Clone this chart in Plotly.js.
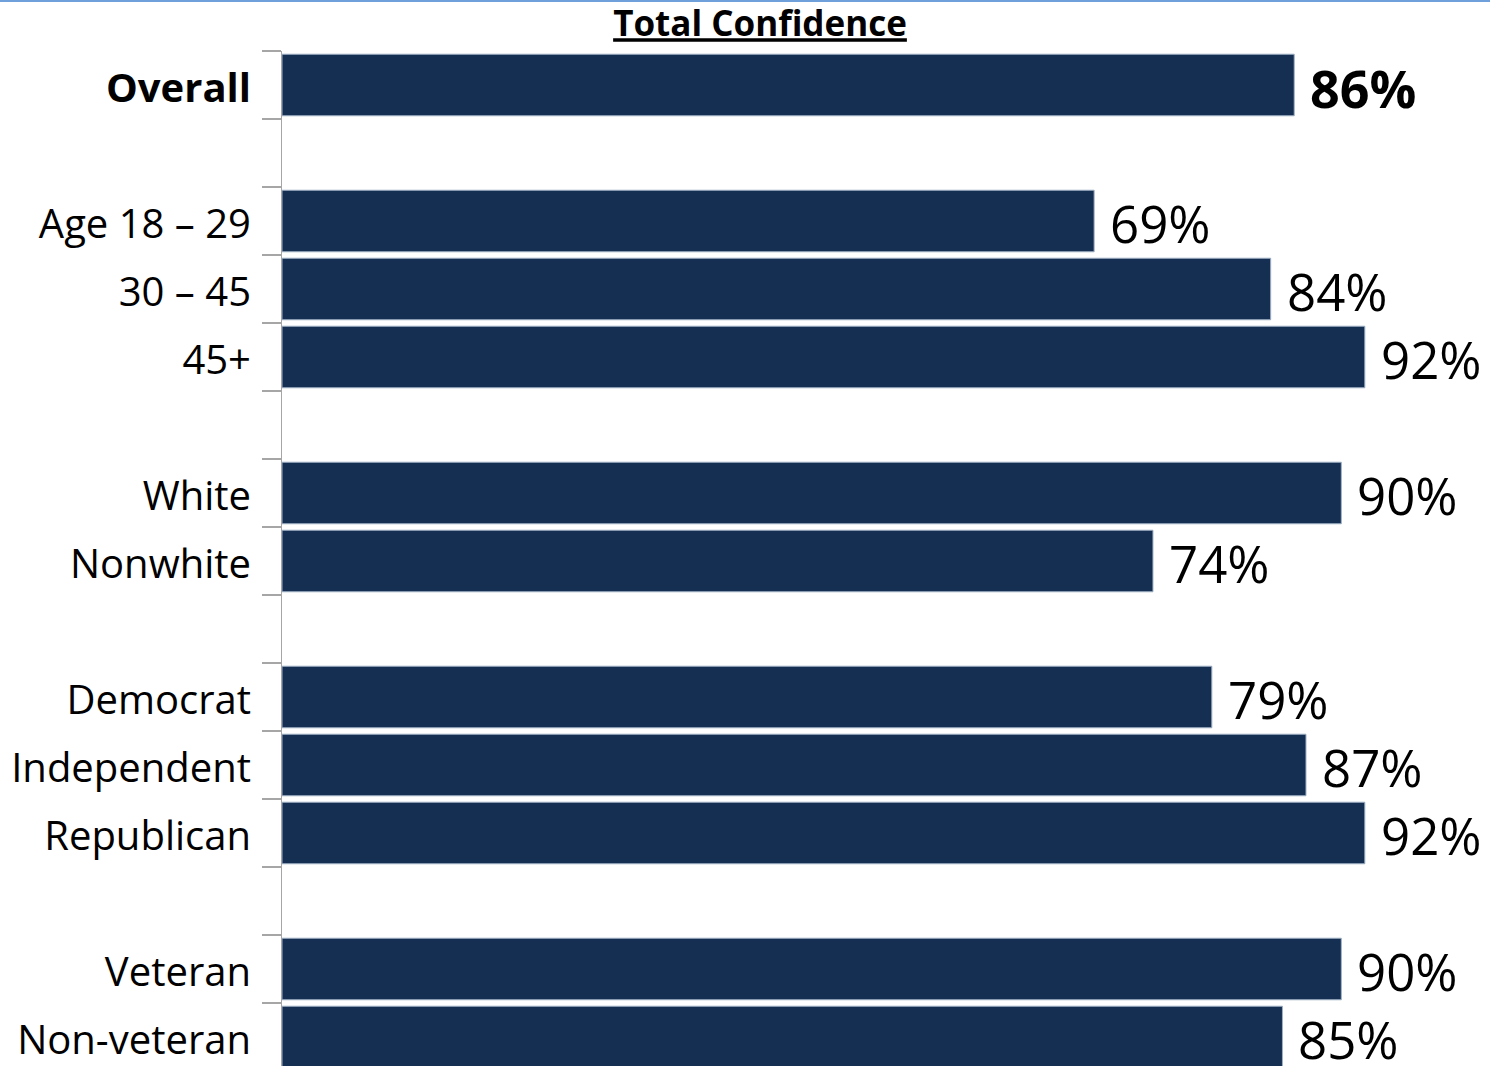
<!DOCTYPE html>
<html>
<head>
<meta charset="utf-8">
<script src="https://cdn.plot.ly/plotly-3.0.1.min.js"></script>
<style>
html,body{margin:0;padding:0;background:#fff;}
#chart{width:1490px;height:1066px;}
</style>
</head>
<body>
<div id="chart"></div>
<script>
// Data
const categories = ["Overall", "", "Age 18 \u2013 29", "30 \u2013 45", "45+", "", "White", "Nonwhite", "", "Democrat", "Independent", "Republican", "", "Veteran", "Non-veteran"];
const values = [86, null, 69, 84, 92, null, 90, 74, null, 79, 87, 92, null, 90, 85];
const boldRows = ["Overall"];
const chartTitle = "Total Confidence";

const FONT = "Open Sans, Noto Sans, sans-serif";
const idx = categories.map((c, i) => i);
const barIdx = idx.filter(i => values[i] !== null);

const trace = {
  type: "bar",
  orientation: "h",
  x: barIdx.map(i => values[i]),
  y: barIdx,
  width: 0.905,
  marker: {color: "#152f52", line: {color: "#9fb0c4", width: 1}},
  hoverinfo: "skip"
};

const nRows = categories.length;
const boundaries = [];
for (let i = -0.5; i <= nRows - 0.5 + 1e-9; i += 1) boundaries.push(i);

const labelIdx = idx.filter(i => categories[i] !== "");
const labelText = labelIdx.map(i => boldRows.includes(categories[i]) ? "<b>" + categories[i] + "</b>" : categories[i]);

const annotations = barIdx.map(i => {
  const bold = boldRows.includes(categories[i]);
  return {
    x: values[i], y: i, xref: "x", yref: "y",
    text: bold ? "<b>" + values[i] + "%</b>" : values[i] + "%",
    showarrow: false, xanchor: "left", yanchor: "middle", xshift: 14, yshift: -2,
    font: {family: FONT, size: bold ? 52 : 51, color: "#000"}
  };
});

const yRange = [nRows - 0.5 - 5 / 68, -0.5];
const labelShift = 3 / 68;
const yRange2 = [yRange[0] - labelShift, yRange[1] - labelShift];

const layout = {
  width: 1490, height: 1066,
  margin: {l: 282, r: 0, t: 51, b: 0},
  paper_bgcolor: "#fff", plot_bgcolor: "#fff",
  showlegend: false,
  bargap: 0,
  title: {
    text: "<b><u>" + chartTitle + "</u></b>",
    font: {family: FONT, size: 35, color: "#000"},
    x: 760 / 1490, xanchor: "center", xref: "container",
    y: 1 - 24 / 1066, yanchor: "middle", yref: "container"
  },
  xaxis: {range: [0, 1208 / 11.77], visible: false, fixedrange: true},
  yaxis: {
    range: yRange,
    tickmode: "array", tickvals: boundaries, ticktext: boundaries.map(() => ""),
    ticks: "outside", ticklen: 19, tickcolor: "#a6a6a6", tickwidth: 1.5,
    showline: true, linecolor: "#a6a6a6", linewidth: 1.5,
    showgrid: false, zeroline: false
  },
  yaxis2: {
    overlaying: "y", side: "left", anchor: "x",
    range: yRange2,
    tickmode: "array", tickvals: labelIdx, ticktext: labelText,
    ticks: "", showline: false, showgrid: false, zeroline: false,
    ticklabelstandoff: 30,
    tickfont: {family: FONT, size: 40, color: "#000"}
  },
  annotations: annotations,
  shapes: [{
    type: "line", xref: "paper", yref: "paper",
    x0: -282 / 1208, x1: 1, y0: 1 + 50 / 1015, y1: 1 + 50 / 1015,
    line: {color: "#6fa0dc", width: 2}
  }]
};

const dummy = {type: "scatter", x: [null], y: [null], yaxis: "y2", hoverinfo: "skip", showlegend: false};

Plotly.newPlot("chart", [trace, dummy], layout, {displayModeBar: false, staticPlot: true});
</script>
</body>
</html>
